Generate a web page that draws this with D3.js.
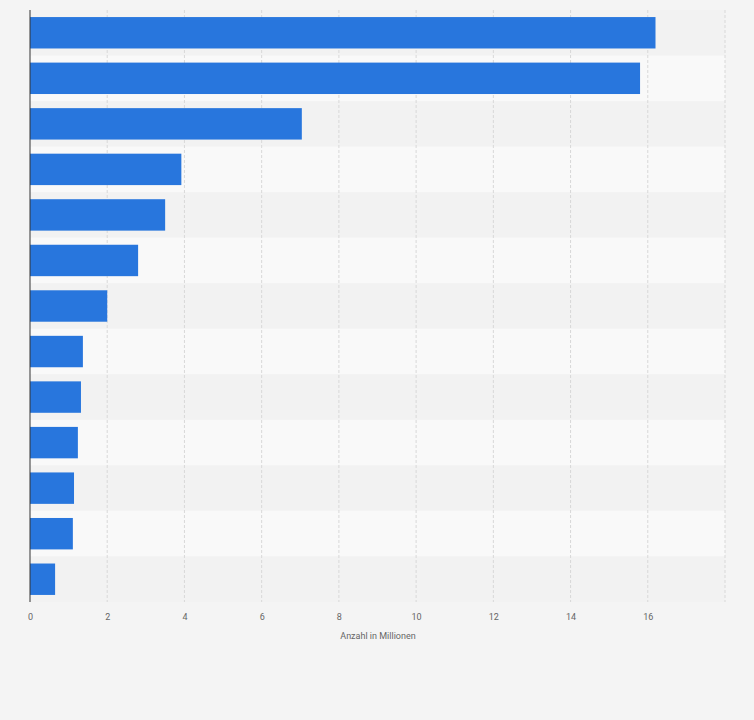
<!DOCTYPE html>
<html><head><meta charset="utf-8">
<script src="https://cdn.jsdelivr.net/npm/d3@7"></script>
<style>body{margin:0;background:#f4f4f4;font-family:Roboto,Arial,sans-serif}</style>
</head><body><svg id="c" width="754" height="720"></svg>
<script>
const categories = ["1","2","3","4","5","6","7","8","9","10","11","12","13"];
const values = [16.2, 15.8, 7.04, 3.92, 3.5, 2.8, 2.0, 1.37, 1.32, 1.24, 1.14, 1.11, 0.65];
const ticks = [0,2,4,6,8,10,12,14,16];
(function(){
const svg = d3.select("#c");
const pL=30,pR=725,pT=10,pB=602;
const x = d3.scaleLinear().domain([0,18]).range([pL,pR]);
const y = d3.scaleBand().domain(categories).range([pT,pB]).paddingInner(0).paddingOuter(0);
svg.append("rect").attr("width",754).attr("height",720).attr("fill","#f4f4f4");
svg.selectAll(".row").data(categories).join("rect")
 .attr("x",pL).attr("width",pR-pL).attr("y",d=>y(d)).attr("height",y.bandwidth())
 .attr("fill",(d,i)=>i%2?"#f9f9f9":"#f2f2f2");
svg.selectAll(".grid").data(ticks.concat([18]).slice(1)).join("line")
 .attr("x1",d=>x(d)).attr("x2",d=>x(d)).attr("y1",pT).attr("y2",pB)
 .attr("stroke","#d8d8d8").attr("stroke-dasharray","3,2");
svg.selectAll(".bar").data(values).join("rect")
 .attr("x",x(0)).attr("y",(d,i)=>y(categories[i])+y.bandwidth()*0.155)
 .attr("height",y.bandwidth()*0.69).attr("width",d=>x(d)-x(0)).attr("fill","#2876dd");
svg.append("line").attr("x1",pL).attr("x2",pL).attr("y1",pT).attr("y2",pB).attr("stroke","#333");
const ax = svg.append("g").attr("transform",`translate(0,${pB})`)
 .call(d3.axisBottom(x).tickValues(ticks).tickSize(0).tickPadding(12));
ax.select(".domain").remove();
ax.selectAll("text").attr("fill","#666").attr("font-size",9).attr("font-family","Roboto,Arial,sans-serif");
svg.append("text").attr("x",378).attr("y",639).attr("text-anchor","middle")
 .attr("font-size",9).attr("fill","#666").text("Anzahl in Millionen");
})();
</script></body></html>
